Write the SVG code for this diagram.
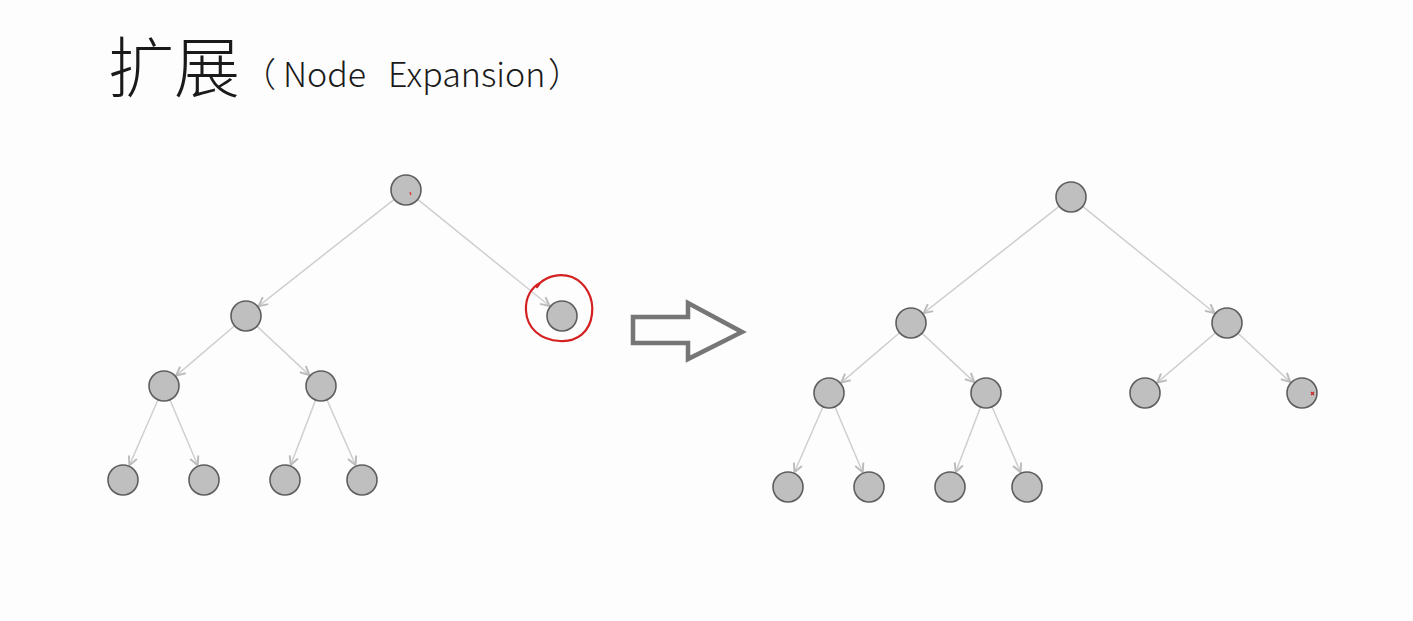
<svg xmlns="http://www.w3.org/2000/svg" width="1413" height="621" viewBox="0 0 1413 621">
<defs>
<marker id="ah" viewBox="0 0 10 10" refX="9" refY="5" markerWidth="11" markerHeight="11" markerUnits="userSpaceOnUse" orient="auto">
<path d="M1,1 L9,5 L1,9" fill="none" stroke="#bcbcbc" stroke-width="1.8"/>
</marker>
<style>
.n{fill:#bfbfbf;stroke:#5e5e5e;stroke-width:1.6}
.e{stroke:#cfcfcf;stroke-width:1.5;fill:none;marker-end:url(#ah)}
.t{font-family:"Noto Sans CJK SC","Noto Sans",sans-serif;fill:#1a1a1a}
</style>
</defs>
<rect width="1413" height="621" fill="#fdfdfd"/>
<g id="title">
<text class="t" x="108" y="92" font-size="66" font-weight="300">扩展</text>
<text class="t" x="242" y="87" font-size="34" font-weight="300">（<tspan x="283">Node</tspan><tspan x="388">Expansion</tspan><tspan x="548">）</tspan></text>
</g>

<g id="left-tree">
<g id="connectors-left">
<line class="e" x1="394.2" y1="199.3" x2="258.6" y2="306.1"/>
<line class="e" x1="417.7" y1="199.4" x2="549.6" y2="306"/>
<line class="e" x1="234.6" y1="325.7" x2="176.2" y2="375.6"/>
<line class="e" x1="257" y1="326.2" x2="309.3" y2="375.1"/>
<line class="e" x1="158" y1="399.7" x2="129.4" y2="465.3"/>
<line class="e" x1="169.9" y1="399.8" x2="197.7" y2="465.3"/>
<line class="e" x1="315.6" y1="400" x2="290.7" y2="465.1"/>
<line class="e" x1="327" y1="399.7" x2="355.6" y2="465.3"/>
</g>
<g id="L-root"><circle class="n" cx="406" cy="190" r="15"/><path d="M410,192 l1,3" stroke="#d33" stroke-width="1.3"/></g>
<g id="L-a"><circle class="n" cx="246" cy="316" r="15"/></g>
<g id="L-b"><circle class="n" cx="562" cy="316" r="15"/></g>
<g id="L-aa"><circle class="n" cx="164" cy="386" r="15"/></g>
<g id="L-ab"><circle class="n" cx="321" cy="386" r="15"/></g>
<g id="L-aaa"><circle class="n" cx="123" cy="480" r="15"/></g>
<g id="L-aab"><circle class="n" cx="204" cy="480" r="15"/></g>
<g id="L-aba"><circle class="n" cx="285" cy="480" r="15"/></g>
<g id="L-abb"><circle class="n" cx="362" cy="480" r="15"/></g>
<g id="highlight">
<path d="M540,283 C548,276 560,273 572,277 C586,283 594,298 592,314 C590,332 577,342 560,341 C540,340 527,328 526,311 C525,297 532,287 540,283 L537,287" fill="none" stroke="#d42020" stroke-width="2.2" stroke-linecap="round"/>
</g>
</g>

<g id="transition-arrow">
<path d="M633,317 L688,317 L688,303 L742,332 L688,359 L688,343 L633,343 Z" fill="none" stroke="#767676" stroke-width="4.5" stroke-linejoin="miter"/>
</g>

<g id="right-tree" transform="translate(665,7)">
<g id="connectors-right">
<line class="e" x1="394.2" y1="199.3" x2="258.6" y2="306.1"/>
<line class="e" x1="417.7" y1="199.4" x2="549.6" y2="306"/>
<line class="e" x1="234.6" y1="325.7" x2="176.2" y2="375.6"/>
<line class="e" x1="257" y1="326.2" x2="309.3" y2="375.1"/>
<line class="e" x1="158" y1="399.7" x2="129.4" y2="465.3"/>
<line class="e" x1="169.9" y1="399.8" x2="197.7" y2="465.3"/>
<line class="e" x1="315.6" y1="400" x2="290.7" y2="465.1"/>
<line class="e" x1="327" y1="399.7" x2="355.6" y2="465.3"/>
<line class="e" x1="550.6" y1="325.7" x2="492.2" y2="375.6"/>
<line class="e" x1="573" y1="326.2" x2="625.3" y2="375.1"/>
</g>
<g id="R-root"><circle class="n" cx="406" cy="190" r="15"/></g>
<g id="R-a"><circle class="n" cx="246" cy="316" r="15"/></g>
<g id="R-b"><circle class="n" cx="562" cy="316" r="15"/></g>
<g id="R-aa"><circle class="n" cx="164" cy="386" r="15"/></g>
<g id="R-ab"><circle class="n" cx="321" cy="386" r="15"/></g>
<g id="R-ba"><circle class="n" cx="480" cy="386" r="15"/></g>
<g id="R-bb"><circle class="n" cx="637" cy="386" r="15"/><path d="M646,385 l3,3 M649,385 l-3,3" stroke="#c22" stroke-width="1.2"/></g>
<g id="R-aaa"><circle class="n" cx="123" cy="480" r="15"/></g>
<g id="R-aab"><circle class="n" cx="204" cy="480" r="15"/></g>
<g id="R-aba"><circle class="n" cx="285" cy="480" r="15"/></g>
<g id="R-abb"><circle class="n" cx="362" cy="480" r="15"/></g>
</g>
</svg>
